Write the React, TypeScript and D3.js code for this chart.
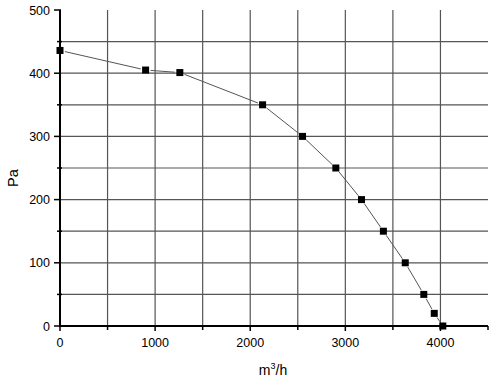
import React from "react";
import * as d3 from "d3";

const flow = [0, 900, 1260, 2130, 2550, 2900, 3170, 3400, 3630, 3825, 3935, 4025];
const pressure = [436, 405, 401, 350, 300, 250, 200, 150, 100, 50, 20, 0];
const xMajor = [0, 1000, 2000, 3000, 4000];
const yMajor = [0, 100, 200, 300, 400, 500];

const W = 497, H = 385;
const M = { left: 60, top: 10, right: 9, bottom: 59 };

export default function App() {
  const x = d3.scaleLinear().domain([0, 4500]).range([M.left, W - M.right]);
  const y = d3.scaleLinear().domain([0, 500]).range([H - M.bottom, M.top]);
  const xGrid = d3.range(500, 4500, 500);
  const yGrid = d3.range(50, 500, 50);
  const xMinor = d3.range(500, 4600, 1000);
  const yMinor = d3.range(50, 500, 100);
  const pts = flow.map((f, i) => [x(f), y(pressure[i])] as [number, number]);
  const gap = 5;
  const segs = pts.slice(0, -1).map((p, i) => {
    const q = pts[i + 1];
    const dx = q[0] - p[0], dy = q[1] - p[1];
    const len = Math.hypot(dx, dy);
    const ux = dx / len, uy = dy / len;
    return [p[0] + ux * gap, p[1] + uy * gap, q[0] - ux * gap, q[1] - uy * gap];
  });
  const x0 = x(0), y0 = y(0);
  return (
    <svg width={W} height={H} style={{ position: "absolute", left: 0, top: 0, background: "#fff" }}
      fontFamily="'Liberation Sans', Arial, sans-serif">
      <g stroke="#555" strokeWidth={1.2}>
        {xGrid.map((v) => (
          <line key={"xg" + v} x1={x(v)} x2={x(v)} y1={y(0)} y2={y(500)} />
        ))}
        {yGrid.map((v) => (
          <line key={"yg" + v} x1={x(0)} x2={x(4500)} y1={y(v)} y2={y(v)} />
        ))}
      </g>
      <g stroke="#000" strokeWidth={1.5}>
        {xMajor.map((v) => (
          <line key={"xt" + v} x1={x(v)} x2={x(v)} y1={y0} y2={y0 + 5} />
        ))}
        {xMinor.map((v) => (
          <line key={"xm" + v} x1={x(v)} x2={x(v)} y1={y0} y2={y0 + 4} />
        ))}
        {yMajor.map((v) => (
          <line key={"yt" + v} x1={x0 - 6} x2={x0 + 1} y1={y(v)} y2={y(v)} />
        ))}
        {yMinor.map((v) => (
          <line key={"ym" + v} x1={x0 - 3} x2={x0 + 2} y1={y(v)} y2={y(v)} />
        ))}
      </g>
      <line x1={x0} x2={x0} y1={y(500)} y2={y0 + 1} stroke="#000" strokeWidth={2} />
      <line x1={x0 - 1} x2={x(4500)} y1={y0} y2={y0} stroke="#000" strokeWidth={2} />
      <g stroke="#555" strokeWidth={1}>
        {segs.map((s, i) => (
          <line key={"s" + i} x1={s[0]} y1={s[1]} x2={s[2]} y2={s[3]} />
        ))}
      </g>
      <g fill="#000">
        {pts.map((p, i) => (
          <rect key={"p" + i} x={p[0] - 3.5} y={p[1] - 3.5} width={7} height={7} />
        ))}
      </g>
      <g fontSize={12.5} fill="#000">
        {xMajor.map((v) => (
          <text key={"xl" + v} x={x(v)} y={y0 + 21} textAnchor="middle">{v}</text>
        ))}
        {yMajor.map((v) => (
          <text key={"yl" + v} x={x0 - 10} y={y(v) + 4.5} textAnchor="end">{v}</text>
        ))}
      </g>
      <text x={273} y={375} fontSize={14} textAnchor="middle">
        m<tspan dy={-6} fontSize={9}>3</tspan><tspan dy={6}>/h</tspan>
      </text>
      <text transform={`translate(18,178) rotate(-90)`} fontSize={14.5} textAnchor="middle">Pa</text>
    </svg>
  );
}
